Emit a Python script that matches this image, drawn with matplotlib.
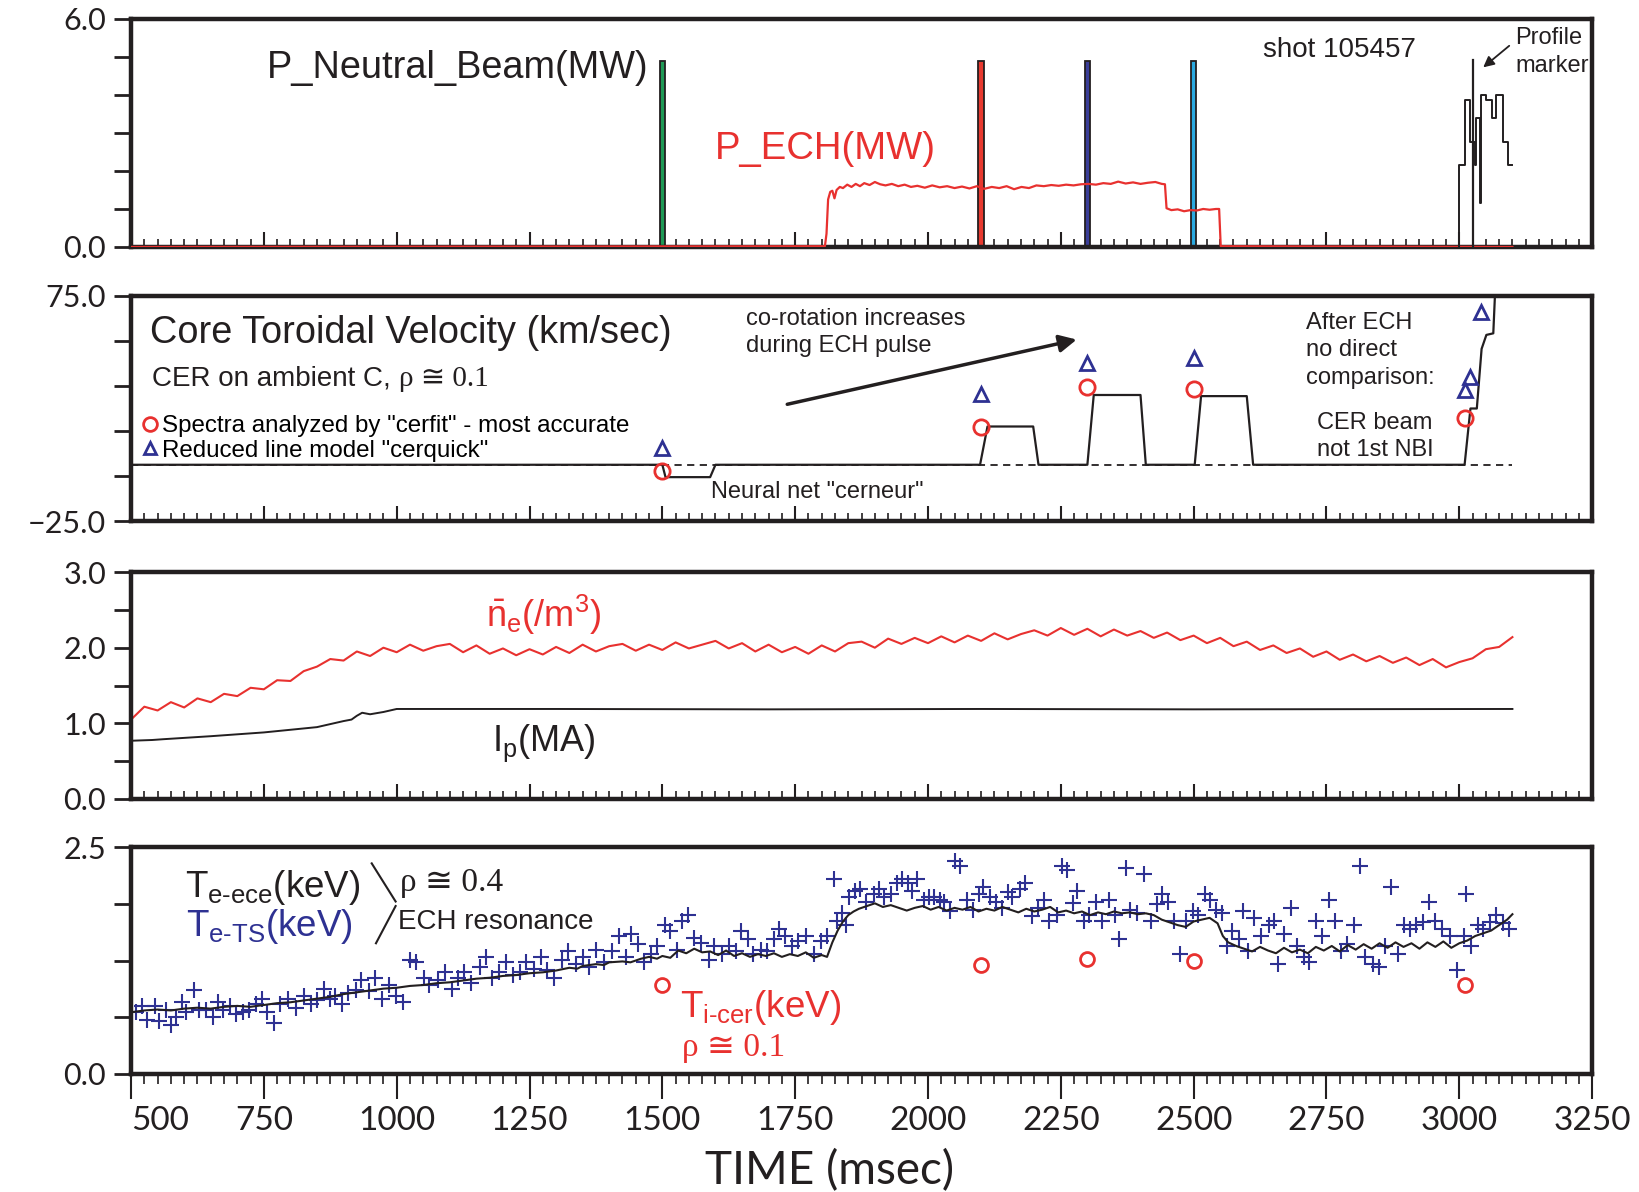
import matplotlib
matplotlib.use("Agg")
import matplotlib.pyplot as plt

# Shot 105457: NBI/ECH power, core toroidal rotation, density/current, temperatures
# all values (time in msec)

NBI_TIMES = [1500, 2100, 2300, 2500]
NBI_POWER = [4.9, 4.9, 4.9, 4.9]
NBI_COLORS = ["#1f9a56", "#e8392f", "#3a3d98", "#2aa9e0"]

ECH_TRACE = [
    (500, 0.0), (1806, 0.02), (1809, 0.35), (1812, 1.25), (1816, 1.45), (1820, 1.48),
    (1824, 1.28), (1828, 1.50), (1834, 1.58), (1840, 1.55), (1848, 1.64), (1856, 1.58),
    (1864, 1.66), (1872, 1.60), (1880, 1.68), (1890, 1.63), (1900, 1.71), (1910, 1.65),
    (1920, 1.62), (1932, 1.66), (1944, 1.60), (1956, 1.64), (1968, 1.58), (1980, 1.61),
    (1994, 1.56), (2008, 1.62), (2022, 1.57), (2036, 1.60), (2050, 1.55), (2064, 1.59),
    (2078, 1.54), (2092, 1.60), (2106, 1.53), (2120, 1.58), (2134, 1.55), (2148, 1.60),
    (2162, 1.52), (2176, 1.58), (2190, 1.55), (2204, 1.62), (2218, 1.60), (2232, 1.63),
    (2246, 1.61), (2260, 1.64), (2274, 1.62), (2288, 1.65), (2302, 1.66), (2316, 1.64),
    (2330, 1.68), (2344, 1.66), (2358, 1.72), (2372, 1.67), (2386, 1.70), (2400, 1.66),
    (2414, 1.69), (2428, 1.71), (2440, 1.66), (2446, 1.65), (2449, 1.02), (2458, 0.97),
    (2470, 0.99), (2482, 0.94), (2494, 0.97), (2506, 0.96), (2518, 1.00), (2530, 0.98),
    (2542, 1.00), (2548, 1.00), (2551, 0.02), (3100, 0.0),
]

# profile-marker trace (stepwise) and the marker itself
PROFILE_T = [3000, 3000, 3011, 3020, 3029, 3032, 3039, 3041, 3051, 3061, 3070, 3083, 3091, 3100]
PROFILE_V = [0.0, 2.17, 3.88, 2.76, 2.17, 3.40, 1.15, 4.00, 3.88, 3.40, 4.00, 2.76, 2.17, 2.17]
MARKER_T = 3025
MARKER_TOP = 4.92

# core toroidal velocity, neural net "cerneur" (km/sec)
VNN_T = [500, 1500, 1506, 1590, 1600, 2098, 2112, 2198, 2208, 2300, 2312, 2400, 2410,
         2502, 2514, 2600, 2612, 3010, 3021, 3033, 3042, 3051, 3064, 3068]
VNN_V = [0, 0, -5.5, -5.5, 0, 0, 17, 17, 0, 0, 31, 31, 0,
         0, 30.5, 30.5, 0, 0, 25, 25, 51.5, 57.7, 58.4, 80]
VNN_ZERO_SPAN = [500, 3100]
CERFIT_T = [1500, 2100, 2300, 2500, 3011]
CERFIT_V = [-2.7, 16.9, 34.5, 33.6, 20.6]
CERQUICK_T = [1500, 2100, 2300, 2500, 3011, 3021, 3041]
CERQUICK_V = [7.6, 31.3, 45.2, 47.6, 33.2, 39.2, 68.0]

NE_TRACE = [
    (500, 1.05), (525, 1.22), (550, 1.17), (575, 1.28), (600, 1.21), (625, 1.33), (650, 1.28),
    (675, 1.39), (700, 1.36), (725, 1.47), (750, 1.45), (775, 1.57), (800, 1.56), (825, 1.69),
    (850, 1.75), (875, 1.85), (900, 1.83), (925, 1.95), (950, 1.89), (975, 2.00), (1000, 1.94),
    (1025, 2.04), (1050, 1.96), (1075, 2.02), (1100, 2.05), (1125, 1.94), (1150, 2.03),
    (1175, 1.92), (1200, 1.99), (1225, 1.90), (1250, 1.98), (1275, 1.91), (1300, 2.01),
    (1325, 1.93), (1350, 2.04), (1375, 1.95), (1400, 2.02), (1425, 2.05), (1450, 1.96),
    (1475, 2.04), (1500, 1.97), (1525, 2.07), (1550, 1.99), (1575, 2.04), (1600, 2.09),
    (1625, 1.99), (1650, 2.06), (1675, 1.95), (1700, 2.04), (1725, 1.94), (1750, 2.01),
    (1775, 1.92), (1800, 2.03), (1825, 1.95), (1850, 2.06), (1875, 2.08), (1900, 2.00),
    (1925, 2.12), (1950, 2.05), (1975, 2.13), (2000, 2.06), (2025, 2.15), (2050, 2.07),
    (2075, 2.16), (2100, 2.09), (2125, 2.19), (2150, 2.11), (2175, 2.18), (2200, 2.23),
    (2225, 2.16), (2250, 2.26), (2275, 2.17), (2300, 2.25), (2325, 2.15), (2350, 2.24),
    (2375, 2.16), (2400, 2.22), (2425, 2.13), (2450, 2.20), (2475, 2.10), (2500, 2.16),
    (2525, 2.06), (2550, 2.13), (2575, 2.02), (2600, 2.08), (2625, 1.97), (2650, 2.03),
    (2675, 1.93), (2700, 1.99), (2725, 1.88), (2750, 1.95), (2775, 1.84), (2800, 1.91),
    (2825, 1.82), (2850, 1.89), (2875, 1.80), (2900, 1.87), (2925, 1.77), (2950, 1.85),
    (2975, 1.74), (3000, 1.81), (3025, 1.86), (3050, 1.98), (3075, 2.01), (3100, 2.14),
]

IP_TRACE = [
    (500, 0.77), (540, 0.78), (560, 0.79), (650, 0.83), (750, 0.88), (850, 0.95),
    (900, 1.03), (915, 1.05), (925, 1.10), (935, 1.14), (950, 1.12), (975, 1.15),
    (1000, 1.19), (1300, 1.19), (1700, 1.185), (2100, 1.19), (2500, 1.185), (3100, 1.19),
]

ECE_TRACE = [
    (500, 0.68), (525, 0.70), (550, 0.71), (575, 0.70), (600, 0.72), (625, 0.73), (650, 0.72),
    (675, 0.74), (700, 0.75), (725, 0.74), (750, 0.76), (775, 0.78), (800, 0.79), (825, 0.81),
    (850, 0.83), (875, 0.85), (900, 0.88), (925, 0.90), (950, 0.92), (975, 0.94), (1000, 0.95),
    (1025, 0.97), (1050, 0.98), (1075, 1.00), (1100, 1.01), (1125, 1.03), (1150, 1.05),
    (1175, 1.06), (1200, 1.08), (1225, 1.09), (1250, 1.11), (1275, 1.12), (1300, 1.14),
    (1325, 1.17), (1340, 1.16), (1350, 1.19), (1375, 1.21), (1390, 1.20), (1400, 1.23),
    (1425, 1.24), (1440, 1.23), (1460, 1.27), (1475, 1.29), (1490, 1.27), (1500, 1.30),
    (1515, 1.28), (1530, 1.36), (1545, 1.33), (1560, 1.38), (1575, 1.34), (1590, 1.35),
    (1605, 1.31), (1620, 1.36), (1635, 1.30), (1650, 1.33), (1665, 1.29), (1680, 1.32),
    (1695, 1.30), (1710, 1.33), (1725, 1.29), (1740, 1.32), (1755, 1.30), (1770, 1.34),
    (1785, 1.28), (1800, 1.31), (1810, 1.29), (1820, 1.45), (1830, 1.58), (1840, 1.68),
    (1850, 1.75), (1860, 1.79), (1870, 1.82), (1885, 1.85), (1900, 1.88), (1915, 1.84),
    (1930, 1.86), (1945, 1.83), (1960, 1.80), (1975, 1.83), (1990, 1.85), (2005, 1.81),
    (2020, 1.84), (2035, 1.80), (2050, 1.83), (2065, 1.81), (2080, 1.84), (2095, 1.79),
    (2110, 1.82), (2125, 1.80), (2140, 1.84), (2155, 1.81), (2170, 1.78), (2185, 1.82),
    (2200, 1.79), (2215, 1.81), (2230, 1.84), (2245, 1.78), (2260, 1.80), (2275, 1.77),
    (2290, 1.79), (2305, 1.75), (2320, 1.78), (2335, 1.76), (2350, 1.79), (2365, 1.77),
    (2380, 1.78), (2395, 1.76), (2410, 1.77), (2425, 1.75), (2440, 1.70), (2455, 1.67),
    (2470, 1.64), (2485, 1.62), (2500, 1.68), (2515, 1.70), (2530, 1.72), (2545, 1.66),
    (2555, 1.52), (2565, 1.45), (2580, 1.41), (2595, 1.38), (2610, 1.35), (2625, 1.40),
    (2640, 1.36), (2655, 1.33), (2670, 1.39), (2685, 1.34), (2700, 1.37), (2715, 1.33),
    (2730, 1.40), (2745, 1.36), (2760, 1.41), (2775, 1.35), (2790, 1.42), (2805, 1.37),
    (2820, 1.43), (2835, 1.38), (2850, 1.44), (2865, 1.39), (2880, 1.45), (2895, 1.40),
    (2910, 1.44), (2925, 1.38), (2940, 1.45), (2955, 1.40), (2970, 1.46), (2985, 1.39),
    (3000, 1.44), (3015, 1.47), (3030, 1.52), (3045, 1.55), (3060, 1.58), (3075, 1.64),
    (3090, 1.70), (3100, 1.76),
]

# Thomson scattering points
TS_POINTS = [
    (510, 0.68), (520, 0.75), (530, 0.60), (545, 0.75), (553, 0.58), (565, 0.71), (575, 0.54),
    (585, 0.63), (595, 0.79), (604, 0.68), (618, 0.93), (628, 0.70), (642, 0.71), (654, 0.63),
    (663, 0.79), (673, 0.70), (687, 0.75), (697, 0.66), (711, 0.68), (722, 0.71), (736, 0.77),
    (746, 0.83), (756, 0.68), (770, 0.56), (781, 0.77), (795, 0.83), (811, 0.73), (825, 0.86),
    (839, 0.77), (850, 0.82), (864, 0.94), (874, 0.83), (884, 0.86), (898, 0.77), (909, 0.89),
    (923, 0.93), (933, 1.03), (947, 0.91), (959, 1.06), (972, 0.83), (986, 0.98), (998, 0.86),
    (1012, 0.79), (1026, 1.26), (1037, 1.23), (1051, 1.06), (1061, 0.98), (1077, 1.03),
    (1091, 1.12), (1104, 0.94), (1116, 1.06), (1126, 1.12), (1140, 1.00), (1156, 1.18),
    (1169, 1.29), (1179, 1.06), (1193, 1.12), (1205, 1.23), (1218, 1.09), (1232, 1.12),
    (1244, 1.23), (1258, 1.16), (1272, 1.29), (1283, 1.14), (1297, 1.06), (1311, 1.26),
    (1323, 1.35), (1337, 1.21), (1350, 1.29), (1362, 1.18), (1376, 1.37), (1390, 1.23),
    (1406, 1.35), (1419, 1.52), (1431, 1.29), (1441, 1.54), (1455, 1.43), (1465, 1.23),
    (1478, 1.32), (1490, 1.41), (1505, 1.64), (1514, 1.58), (1528, 1.37), (1537, 1.69),
    (1549, 1.75), (1559, 1.50), (1573, 1.44), (1587, 1.26), (1598, 1.41), (1612, 1.32),
    (1626, 1.41), (1638, 1.35), (1648, 1.58), (1661, 1.49), (1671, 1.32), (1685, 1.37),
    (1697, 1.35), (1711, 1.49), (1720, 1.60), (1730, 1.52), (1744, 1.41), (1756, 1.46),
    (1770, 1.52), (1785, 1.32), (1799, 1.46), (1809, 1.52), (1823, 2.15), (1829, 1.69),
    (1839, 1.77), (1845, 1.64), (1852, 1.95), (1862, 2.02), (1872, 2.04), (1884, 1.90),
    (1898, 1.98), (1907, 2.04), (1917, 1.95), (1931, 1.98), (1941, 2.10), (1951, 2.15),
    (1963, 2.10), (1970, 2.02), (1980, 2.15), (1992, 1.92), (2002, 1.95), (2012, 1.95),
    (2022, 1.92), (2031, 1.90), (2041, 1.79), (2051, 2.35), (2061, 2.29), (2073, 1.92),
    (2085, 1.81), (2096, 1.98), (2104, 2.06), (2116, 1.95), (2128, 1.90), (2140, 1.83),
    (2150, 2.00), (2159, 1.95), (2173, 2.04), (2183, 2.10), (2195, 1.74), (2207, 1.83),
    (2218, 1.92), (2228, 1.69), (2242, 1.75), (2252, 2.29), (2262, 2.25), (2272, 1.88),
    (2281, 2.02), (2293, 1.69), (2303, 1.75), (2317, 1.90), (2327, 1.69), (2341, 1.92),
    (2352, 1.75), (2360, 1.49), (2372, 2.27), (2380, 1.81), (2394, 1.77), (2406, 2.20),
    (2419, 1.69), (2431, 1.87), (2441, 1.98), (2451, 1.90), (2463, 1.69), (2474, 1.32),
    (2486, 1.69), (2498, 1.79), (2508, 1.75), (2522, 1.98), (2531, 1.92), (2543, 1.81),
    (2553, 1.77), (2563, 1.41), (2573, 1.58), (2585, 1.49), (2592, 1.79), (2602, 1.35),
    (2614, 1.72), (2626, 1.52), (2642, 1.64), (2652, 1.69), (2659, 1.21), (2671, 1.54),
    (2683, 1.83), (2695, 1.41), (2707, 1.29), (2718, 1.23), (2730, 1.69), (2742, 1.52),
    (2754, 1.92), (2766, 1.69), (2778, 1.35), (2789, 1.43), (2801, 1.64), (2813, 2.29),
    (2823, 1.29), (2837, 1.21), (2848, 1.18), (2860, 1.41), (2872, 2.06), (2884, 1.32),
    (2896, 1.64), (2907, 1.60), (2919, 1.64), (2931, 1.67), (2943, 1.90), (2955, 1.69),
    (2967, 1.60), (2982, 1.52), (2996, 1.14), (3008, 1.52), (3012, 1.98), (3022, 1.41),
    (3035, 1.64), (3045, 1.60), (3057, 1.67), (3069, 1.75), (3083, 1.66), (3094, 1.60),
]

# Ti from CER, rho ~ 0.1
TI_T = [1500, 2100, 2300, 2500, 3010]
TI_V = [0.98, 1.20, 1.27, 1.24, 0.98]

X_TICKS = list(range(500, 3251, 250))
X_MINOR = list(range(500, 3251, 25))
Y1_TICKS = [0, 1, 2, 3, 4, 5, 6]
Y1_LABELS = ["0.0", "", "", "", "", "", "6.0"]
Y2_TICKS = [-25, -5, 15, 35, 55, 75]
Y2_LABELS = ["\u221225.0", "", "", "", "", "75.0"]
Y3_TICKS = [0, 0.5, 1.0, 1.5, 2.0, 2.5, 3.0]
Y3_LABELS = ["0.0", "", "1.0", "", "2.0", "", "3.0"]
Y4_TICKS = [0, 0.625, 1.25, 1.875, 2.5]
Y4_LABELS = ["0.0", "", "", "", "2.5"]

INK = "#231f20"
RED = "#e8312f"
BLUE = "#2e3192"
SANS = ["Liberation Sans", "DejaVu Sans"]
SERIF = ["Liberation Serif", "DejaVu Sans"]
TICK_FONT = ["Lato", "DejaVu Sans"]

plt.rcParams["font.family"] = SANS
plt.rcParams["mathtext.fontset"] = "custom"
plt.rcParams["mathtext.rm"] = "Liberation Sans"
plt.rcParams["mathtext.it"] = "Liberation Sans"
plt.rcParams["mathtext.bf"] = "Liberation Sans:bold"


def unzip(points):
    return [p[0] for p in points], [p[1] for p in points]


def style_axes(ax, yticks, ylabels, bottom_panel=False):
    ax.set_xlim(500, 3250)
    ax.set_ylim(yticks[0], yticks[-1])
    for spine in ax.spines.values():
        spine.set_linewidth(3.2)
        spine.set_color(INK)
    ax.set_xticks(X_TICKS)
    ax.set_xticks(X_MINOR, minor=True)
    ax.set_yticks(yticks, labels=ylabels, fontsize=22, family=TICK_FONT, color=INK)
    ax.tick_params(axis="y", direction="out", length=12, width=2, pad=6, color=INK)
    if bottom_panel:
        ax.tick_params(axis="x", which="major", direction="out", length=18, width=1.5, color=INK)
        ax.tick_params(axis="x", which="minor", direction="out", length=7, width=1.2, color=INK)
    else:
        ax.tick_params(axis="x", which="major", direction="in", length=11, width=1.5,
                       color=INK, labelbottom=False)
        ax.tick_params(axis="x", which="minor", direction="in", length=6, width=1.2, color=INK)


fig = plt.figure(figsize=(16.4, 11.92), dpi=100)
L, W = 0.0799, 0.8909
ax1 = fig.add_axes([L, 0.7928, W, 0.1913])
ax2 = fig.add_axes([L, 0.5629, W, 0.1888])
ax3 = fig.add_axes([L, 0.3297, W, 0.1904])
ax4 = fig.add_axes([L, 0.0990, W, 0.1904])

# ---- panel 1: heating power ----
style_axes(ax1, Y1_TICKS, Y1_LABELS)
ax1.bar(NBI_TIMES, NBI_POWER, width=10, color=NBI_COLORS, edgecolor=INK, linewidth=1.3, zorder=2)
ech_t, ech_v = unzip(ECH_TRACE)
ax1.plot(ech_t, ech_v, color=RED, lw=1.6, zorder=3)
ax1.plot(PROFILE_T, PROFILE_V, drawstyle="steps-post", color=INK, lw=1.4, zorder=3)
ax1.plot([MARKER_T, MARKER_T], [0, MARKER_TOP], color=INK, lw=1.6, zorder=3)
ax1.text(756, 4.71, "P_Neutral_Beam(MW)", fontsize=27.3, color=INK, ha="left", va="center")
ax1.text(1598, 2.59, "P_ECH(MW)", fontsize=27.5, color=RED, ha="left", va="center")
ax1.text(2630, 5.17, "shot 105457", fontsize=20, color=INK, ha="left", va="center")
ax1.text(3106, 5.13, "Profile\nmarker", fontsize=17, color=INK, ha="left", va="center",
         linespacing=1.3)
ax1.annotate("", xy=(3041, 4.68), xytext=(3098, 5.34),
             arrowprops=dict(arrowstyle="-|>", color=INK, lw=1.3, mutation_scale=16))

# ---- panel 2: core toroidal velocity ----
style_axes(ax2, Y2_TICKS, Y2_LABELS)
ax2.plot(VNN_ZERO_SPAN, [0, 0], color=INK, lw=1.3, ls=(0, (4, 3)))
ax2.plot(VNN_T, VNN_V, color=INK, lw=1.6)
ax2.plot(CERFIT_T, CERFIT_V, "o", mfc="none", mec=RED, ms=11, mew=2,
         label='Spectra analyzed by "cerfit" - most accurate')
ax2.plot(CERQUICK_T, CERQUICK_V, "^", mfc="none", mec=BLUE, ms=10, mew=2,
         label='Reduced line model "cerquick"')
ax2.legend(loc="upper left", bbox_to_anchor=(0.008, 0.47), frameon=False, fontsize=17.4,
           handlelength=0.6, handletextpad=0.2, borderpad=0, borderaxespad=0,
           labelspacing=0.1, markerscale=0.9)
ax2.text(535, 58.7, "Core Toroidal Velocity (km/sec)", fontsize=27.3, color=INK, va="center")
ax2.text(539, 38.3, "CER on ambient C,", fontsize=20, color=INK, va="center")
ax2.text(1004, 38.3, "\u03c1 \u2245 0.1", fontsize=21, color=INK, va="center", family=SERIF)
ax2.text(1591, -12, 'Neural net "cerneur"', fontsize=17, color=INK, va="center")
ax2.text(1657, 58.7, "co-rotation increases\nduring ECH pulse", fontsize=17, color=INK,
         va="center", linespacing=1.3)
ax2.annotate("", xy=(2285, 55.9), xytext=(1730, 26.6),
             arrowprops=dict(arrowstyle="-|>", color=INK, lw=2.5, mutation_scale=26))
ax2.text(2711, 50.8, "After ECH\nno direct\ncomparison:", fontsize=17, color=INK,
         va="center", linespacing=1.3)
ax2.text(2732, 12.5, "CER beam\nnot 1st NBI", fontsize=17, color=INK, va="center",
         linespacing=1.3)

# ---- panel 3: density and plasma current ----
style_axes(ax3, Y3_TICKS, Y3_LABELS)
ne_t, ne_v = unzip(NE_TRACE)
ip_t, ip_v = unzip(IP_TRACE)
ax3.plot(ne_t, ne_v, color=RED, lw=1.5)
ax3.plot(ip_t, ip_v, color=INK, lw=1.4)
ax3.text(1169, 2.27, r"$\bar{n}_e$(/m$^3$)", fontsize=26, color=RED, va="baseline")
ax3.text(1179, 0.64, r"$I_p$(MA)", fontsize=26, color=INK, va="baseline")

# ---- panel 4: temperatures ----
style_axes(ax4, Y4_TICKS, Y4_LABELS, bottom_panel=True)
ece_t, ece_v = unzip(ECE_TRACE)
ts_t, ts_v = unzip(TS_POINTS)
ax4.plot(ts_t, ts_v, "+", color=BLUE, ms=11, mew=1.5)
ax4.plot(ece_t, ece_v, color=INK, lw=1.5)
ax4.plot(TI_T, TI_V, "o", mfc="none", mec=RED, ms=10, mew=2)
ax4.text(602, 1.95, r"$T_{e\text{-}ece}$(keV)", fontsize=26.5, color=INK, va="baseline")
ax4.text(604, 1.52, r"$T_{e\text{-}TS}$(keV)", fontsize=26.5, color=BLUE, va="baseline")
ax4.plot([953, 998], [2.32, 1.90], color=INK, lw=1.5)
ax4.plot([998, 961], [1.85, 1.44], color=INK, lw=1.5)
ax4.text(1006, 2.02, "\u03c1 \u2245 0.4", fontsize=24, color=INK, va="baseline", family=SERIF)
ax4.text(1002, 1.60, "ECH resonance", fontsize=20, color=INK, va="baseline")
ax4.text(1533, 0.63, r"$T_{i\text{-}cer}$(keV)", fontsize=26.5, color=RED, va="baseline")
ax4.text(1537, 0.20, "\u03c1 \u2245 0.1", fontsize=24, color=RED, va="baseline", family=SERIF)

ax4.set_xticks(X_TICKS, labels=[str(t) for t in X_TICKS], fontsize=24, family=TICK_FONT,
               color=INK)
ax4.get_xticklabels()[0].set_ha("left")
ax4.tick_params(axis="x", which="major", pad=5)
ax4.set_xlabel("TIME (msec)", fontsize=33, family=TICK_FONT, color=INK)
ax4.xaxis.set_label_coords(0.478, -0.33)

fig.savefig("out.png", dpi=100, facecolor="white")
